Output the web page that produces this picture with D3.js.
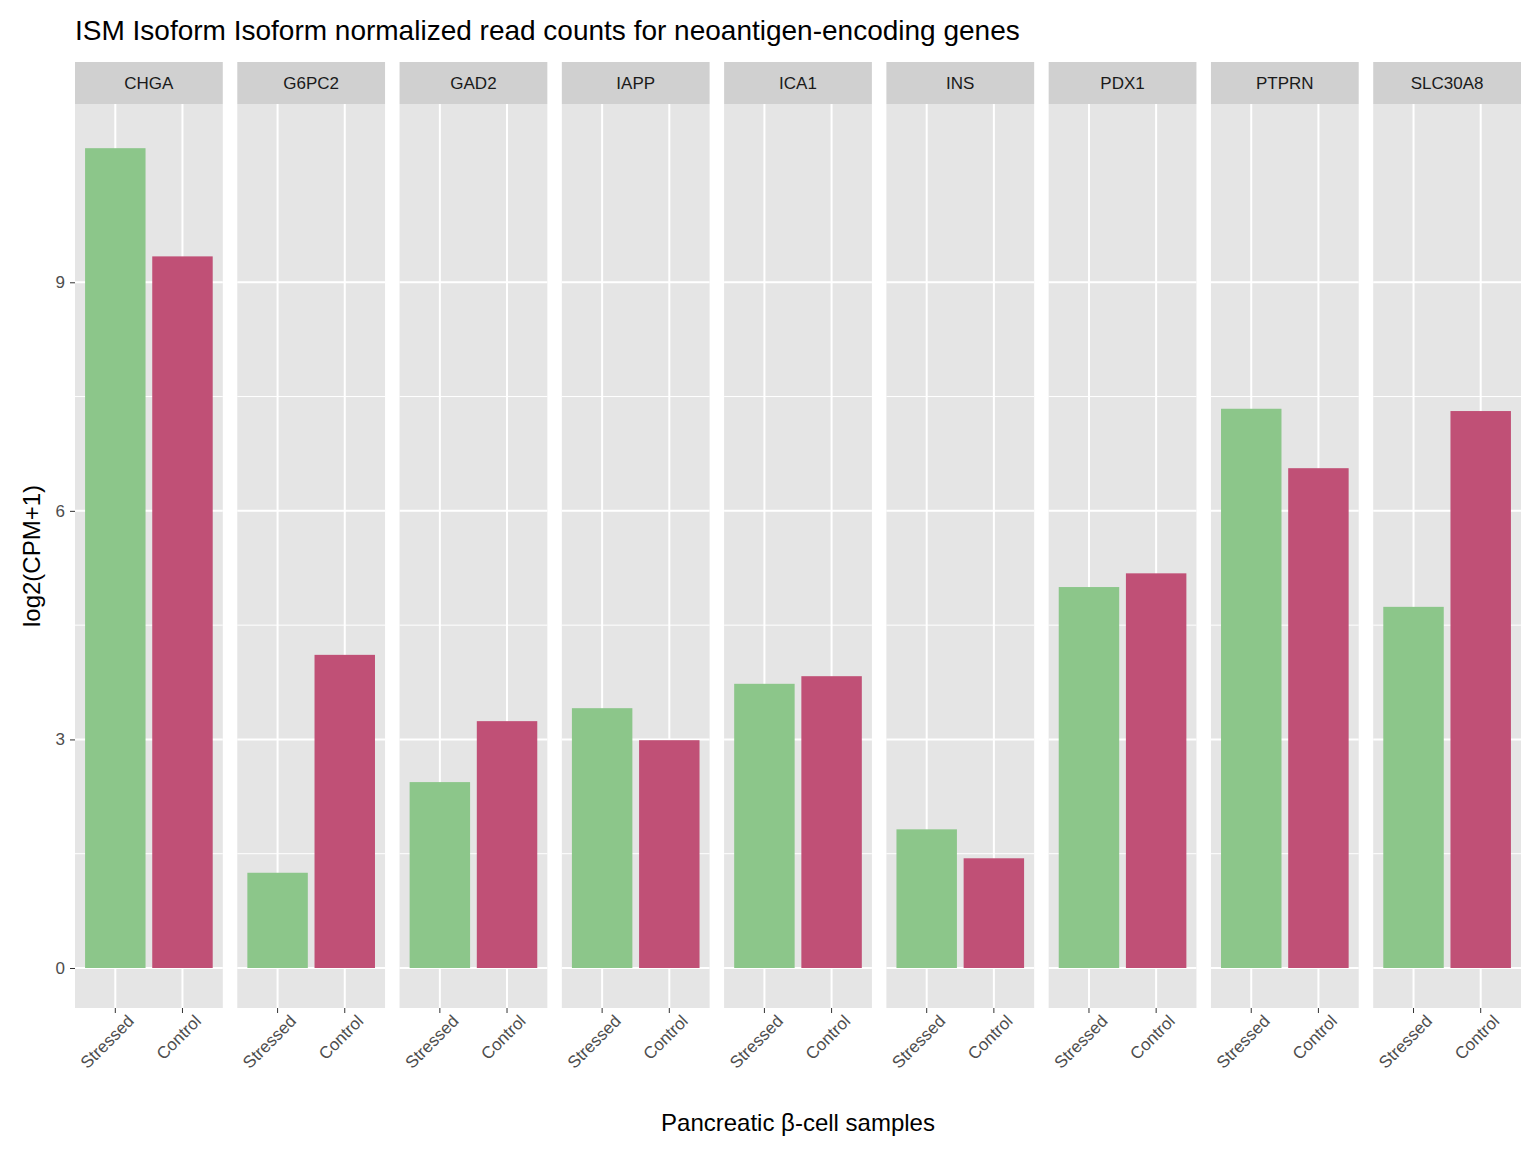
<!DOCTYPE html>
<html><head><meta charset="utf-8">
<script src="https://cdn.jsdelivr.net/npm/d3@7"></script>
<style>body{margin:0;background:#fff;font-family:"Liberation Sans",Arial,sans-serif}</style>
</head><body><div id="chart"></div>
<script>
const genes = ['CHGA', 'G6PC2', 'GAD2', 'IAPP', 'ICA1', 'INS', 'PDX1', 'PTPRN', 'SLC30A8'];
const samples = ['Stressed', 'Control'];
const stressed = [10.76, 1.25, 2.44, 3.41, 3.73, 1.82, 5.0, 7.34, 4.74];
const control = [9.34, 4.11, 3.24, 2.99, 3.83, 1.44, 5.18, 6.56, 7.31];
const yTicks = [0, 3, 6, 9];
const colors = { Stressed: '#8cc68a', Control: '#c05076' };

const W = 1536, H = 1152;
const margin = { top: 104, left: 75, right: 15, bottom: 144 };
const panelGap = 14.5, stripH = 42;
const innerW = W - margin.left - margin.right;
const panelW = (innerW - panelGap * (genes.length - 1)) / genes.length;
const plotH = H - margin.top - margin.bottom;

const svg = d3.select('#chart').append('svg').attr('width', W).attr('height', H);

const y = d3.scaleLinear().domain([-0.525, 11.34]).range([plotH, 0]);
const x = d3.scaleBand().domain(samples).range([0, panelW]).paddingInner(0.1).paddingOuter(0.15);

svg.append('text').attr('x', 75).attr('y', 40).attr('font-size', 28).attr('fill', '#000')
    .text('ISM Isoform Isoform normalized read counts for neoantigen-encoding genes');

const main = svg.append('g').attr('transform', `translate(${margin.left},${margin.top})`);

// y axis
const yAxis = main.append('g').call(d3.axisLeft(y).tickValues(yTicks).tickSize(5).tickPadding(5));
yAxis.select('.domain').remove();
yAxis.selectAll('line').attr('stroke', '#333');
yAxis.selectAll('text').attr('font-size', 17).attr('fill', '#4d4d4d').attr('font-family', 'Liberation Sans, Arial');

const minor = yTicks.slice(0, -1).map(t => t + 1.5);

genes.forEach((g, i) => {
    const p = main.append('g').attr('transform', `translate(${i * (panelW + panelGap)},0)`);
    p.append('rect').attr('width', panelW).attr('height', plotH).attr('fill', '#e5e5e5');
    p.append('rect').attr('y', -stripH).attr('width', panelW).attr('height', stripH).attr('fill', '#d0d0d0');
    p.append('text').attr('x', panelW / 2).attr('y', -stripH / 2 + 6).attr('text-anchor', 'middle')
        .attr('font-size', 17).attr('fill', '#1a1a1a').text(g);
    minor.forEach(t => p.append('line').attr('x1', 0).attr('x2', panelW).attr('y1', y(t)).attr('y2', y(t))
        .attr('stroke', '#fff').attr('stroke-width', 1));
    yTicks.forEach(t => p.append('line').attr('x1', 0).attr('x2', panelW).attr('y1', y(t)).attr('y2', y(t))
        .attr('stroke', '#fff').attr('stroke-width', 2));
    samples.forEach(s => p.append('line').attr('x1', x(s) + x.bandwidth() / 2).attr('x2', x(s) + x.bandwidth() / 2)
        .attr('y1', 0).attr('y2', plotH).attr('stroke', '#fff').attr('stroke-width', 2));
    const vals = [stressed[i], control[i]];
    p.selectAll('.bar').data(samples).join('rect').attr('class', 'bar')
        .attr('x', s => x(s)).attr('width', x.bandwidth())
        .attr('y', (s, j) => y(vals[j])).attr('height', (s, j) => y(0) - y(vals[j]))
        .attr('fill', s => colors[s]);
    const xa = p.append('g').attr('transform', `translate(0,${plotH})`)
        .call(d3.axisBottom(x).tickSize(5).tickPadding(3));
    xa.select('.domain').remove();
    xa.selectAll('line').attr('stroke', '#333');
    xa.selectAll('text').attr('font-size', 17).attr('fill', '#4d4d4d').attr('font-family', 'Liberation Sans, Arial')
        .style('text-anchor', 'end').attr('x', 4).attr('y', 12).attr('dy', '0.7em').attr('transform', 'rotate(-45)');
});

svg.append('text').attr('x', margin.left + innerW / 2).attr('y', 1131).attr('text-anchor', 'middle')
    .attr('font-size', 24).text('Pancreatic β-cell samples');
svg.append('text').attr('transform', `translate(40,${margin.top + plotH / 2}) rotate(-90)`)
    .attr('text-anchor', 'middle').attr('font-size', 24).text('log2(CPM+1)');
</script></body></html>
